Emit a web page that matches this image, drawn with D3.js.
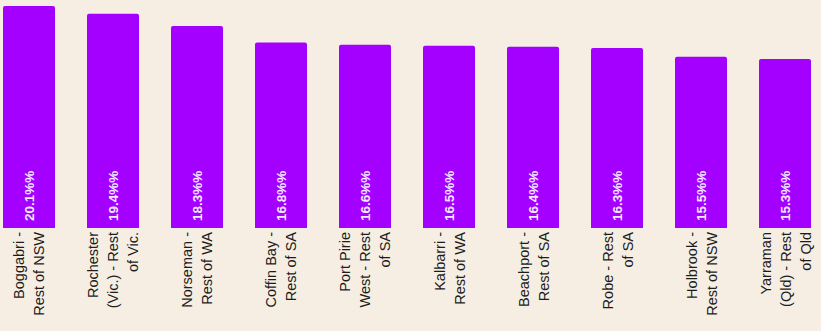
<!DOCTYPE html>
<html>
<head>
<meta charset="utf-8">
<script src="https://cdn.jsdelivr.net/npm/d3@7"></script>
<style>
  html, body { margin: 0; padding: 0; background: #f6eee3; }
  svg { display: block; }
  .cat { font-family: "Liberation Sans", Arial, sans-serif; font-size: 14.5px; fill: #1c1c1c; }
  .val { font-family: "Liberation Sans", Arial, sans-serif; font-size: 13.5px; font-weight: bold; fill: #f4e8ff; }
</style>
</head>
<body>
<svg width="821" height="331"></svg>
<script>
// towns vs rest of state, share in %
const categories = [
    "Boggabri -\nRest of NSW",
    "Rochester\n(Vic.) - Rest\nof Vic.",
    "Norseman -\nRest of WA",
    "Coffin Bay -\nRest of SA",
    "Port Pirie\nWest - Rest\nof SA",
    "Kalbarri -\nRest of WA",
    "Beachport -\nRest of SA",
    "Robe - Rest\nof SA",
    "Holbrook -\nRest of NSW",
    "Yarraman\n(Qld) - Rest\nof Qld"
];
const values = [20.1, 19.4, 18.3, 16.8, 16.6, 16.5, 16.4, 16.3, 15.5, 15.3];

let svg = d3.select("svg"),
    width = +svg.attr("width"),
    height = +svg.attr("height");

const baseY = 228, topY = 6;

let x = d3.scaleBand()
    .domain(categories)
    .range([3, 811])
    .paddingInner(0.381)
    .paddingOuter(0);

let y = d3.scaleLinear()
    .domain([0, d3.max(values)])
    .range([baseY, topY]);

const rows = categories.map(function (c, i) {
    return {cat: c, value: values[i]};
});

// bar with rounded top corners only
function barPath(d) {
    const x0 = x(d.cat), w = x.bandwidth(), y0 = y(d.value), r = 2;
    return "M" + x0 + "," + baseY +
        "V" + (y0 + r) +
        "Q" + x0 + "," + y0 + " " + (x0 + r) + "," + y0 +
        "H" + (x0 + w - r) +
        "Q" + (x0 + w) + "," + y0 + " " + (x0 + w) + "," + (y0 + r) +
        "V" + baseY + "Z";
}

svg.append("g")
    .selectAll("path")
    .data(rows)
    .enter().append("path")
    .attr("d", barPath)
    .attr("fill", "#a300ff");

// value labels inside bars
svg.append("g")
    .selectAll("text")
    .data(rows)
    .enter().append("text")
    .attr("class", "val")
    .attr("transform", function (d) {
        return "translate(" + (x(d.cat) + x.bandwidth() / 2 + 4.8) + "," + (baseY - 7) + ") rotate(-90)";
    })
    .text(function (d) {
        return d3.format(".1f")(d.value) + "%%";
    });

// category labels, rotated, right-aligned against the axis
const lineH = 20;
const catG = svg.append("g")
    .selectAll("g")
    .data(rows)
    .enter().append("g");

catG.each(function (d) {
    const lines = d.cat.split("\n");
    const cx = x(d.cat) + x.bandwidth() / 2;
    const g = d3.select(this);
    lines.forEach(function (ln, i) {
        const bx = cx + (i - (lines.length - 1) / 2) * lineH + 5.5;
        g.append("text")
            .attr("class", "cat")
            .attr("text-anchor", "end")
            .attr("transform", "translate(" + bx + "," + (baseY + 4) + ") rotate(-90)")
            .text(ln);
    });
});
</script>
</body>
</html>
